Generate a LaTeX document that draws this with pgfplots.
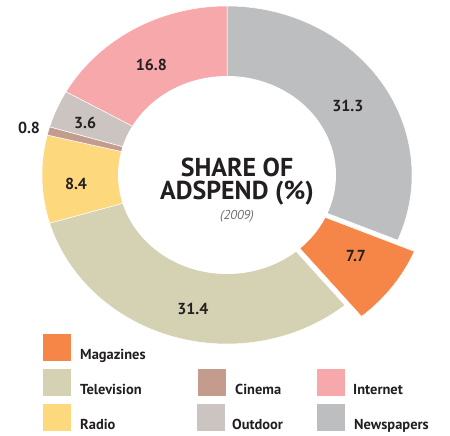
\documentclass[border=0pt]{standalone}
\usepackage{pgfplots}
\pgfplotsset{compat=1.18}
\usepackage{pgfplotstable}
\usepackage{fontspec}
\setmainfont{PT Sans}
\definecolor{cNews}{HTML}{BDBEC0}
\definecolor{cMag}{HTML}{F58647}
\definecolor{cTV}{HTML}{D4D2B3}
\definecolor{cRadio}{HTML}{FED87D}
\definecolor{cCinema}{HTML}{C49C8D}
\definecolor{cOut}{HTML}{CBC4C0}
\definecolor{cNet}{HTML}{F6A8AB}
\definecolor{txt}{HTML}{231F20}
\definecolor{sub}{HTML}{6D6E71}
\pgfplotstableread{
name value
Newspapers 31.3
Magazines 7.7
Television 31.4
Radio 8.4
Cinema 0.8
Outdoor 3.6
Internet 16.8
}\shares
\def\cx{227}\def\cy{260}\def\rx{185}\def\ry{169}\def\irx{109}\def\iry{99}%
\gdef\cumsum{0}%
\foreach \i in {0,...,6}{%
  \pgfplotstablegetelem{\i}{value}\of\shares
  \pgfmathsetmacro\tmpS{90-3.6*\cumsum}%
  \pgfmathsetmacro\tmpC{\cumsum+\pgfplotsretval}%
  \pgfmathsetmacro\tmpE{90-3.6*\tmpC}%
  \pgfmathsetmacro\tmpM{(\tmpS+\tmpE)/2}%
  \expandafter\xdef\csname aS\i\endcsname{\tmpS}%
  \expandafter\xdef\csname aE\i\endcsname{\tmpE}%
  \expandafter\xdef\csname aM\i\endcsname{\tmpM}%
  \expandafter\xdef\csname val\i\endcsname{\pgfplotsretval}%
  \xdef\cumsum{\tmpC}%
}%
\newcommand\sector[4]{%
  \pgfmathsetmacro\scx{\cx+#3}\pgfmathsetmacro\scy{\cy+#4}%
  \edef\temp{\noexpand\addplot[fill=#2, draw=white, line width=0.5bp, domain=\csname aE#1\endcsname:\csname aS#1\endcsname, samples=80, variable=\noexpand\t] ({\scx+\rx*cos(\noexpand\t)},{\scy+\ry*sin(\noexpand\t)}) -- (axis cs:\scx,\scy) -- cycle;}%
  \temp}
\newcommand\lab[3]{%
  \pgfmathsetmacro\ang{\csname aM#1\endcsname+#3}%
  \pgfmathsetmacro\lx{\cx+#2*\rx*cos(\ang)}%
  \pgfmathsetmacro\ly{\cy+#2*\ry*sin(\ang)}%
  \edef\temp{\noexpand\node[lab] at (axis cs:\lx,\ly) {\csname val#1\endcsname};}%
  \temp}
\begin{document}
\begin{tikzpicture}[
  lab/.style={font=\bfseries\fontsize{16}{16}\selectfont, text=txt, inner sep=0pt},
  leg/.style={font=\bfseries\fontsize{14.5}{14.5}\selectfont, text=txt, inner sep=0pt, anchor=base west}]
\begin{axis}[
  scale only axis, width=450bp, height=435bp,
  xmin=0, xmax=450, ymin=0, ymax=435,
  hide axis, clip=false]
\path (axis cs:0,0) rectangle (axis cs:450,435);
\sector{0}{cNews}{0}{0}
\sector{2}{cTV}{0}{0}
\sector{3}{cRadio}{0}{0}
\sector{4}{cCinema}{0}{0}
\sector{5}{cOut}{0}{0}
\sector{6}{cNet}{0}{0}
\sector{1}{cMag}{16.6}{-11.2}
\addplot[fill=white, draw=none, domain=0:360, samples=160, variable=\t]
  ({\cx+\irx*cos(\t)},{\cy+\iry*sin(\t)}) -- cycle;
\lab{0}{0.77}{-1.7}
\lab{1}{0.846}{2}
\lab{2}{0.814}{3.8}
\lab{3}{0.818}{2.3}
\lab{4}{1.106}{0.5}
\lab{5}{0.827}{1}
\lab{6}{0.77}{1.8}
\node[font=\bfseries\fontsize{26}{22.6}\selectfont, text=txt, anchor=base, inner sep=0pt, align=center] at (axis cs:237,235.7) {SHARE OF\\ADSPEND (\%)};
\node[font=\itshape\fontsize{13}{13}\selectfont, text=sub, anchor=base, inner sep=0pt] at (axis cs:237,216) {(2009)};
% legend
\fill[cMag] (axis cs:43,74) rectangle (axis cs:71,101);
\node[leg] at (axis cs:80,75.5) {Magazines};
\fill[cTV] (axis cs:43,39) rectangle (axis cs:71,66);
\node[leg] at (axis cs:80,40.5) {Television};
\fill[cRadio] (axis cs:43,4) rectangle (axis cs:71,31);
\node[leg] at (axis cs:80,5.5) {Radio};
\fill[cCinema] (axis cs:198,39) rectangle (axis cs:226,66);
\node[leg] at (axis cs:235,40.5) {Cinema};
\fill[cOut] (axis cs:197,4) rectangle (axis cs:225,31);
\node[leg] at (axis cs:232,5.5) {Outdoor};
\fill[cNet] (axis cs:317,39) rectangle (axis cs:345,66);
\node[leg] at (axis cs:353,40.5) {Internet};
\fill[cNews] (axis cs:317,4) rectangle (axis cs:345,31);
\node[leg] at (axis cs:354,5.5) {Newspapers};
\end{axis}
\end{tikzpicture}
\end{document}
